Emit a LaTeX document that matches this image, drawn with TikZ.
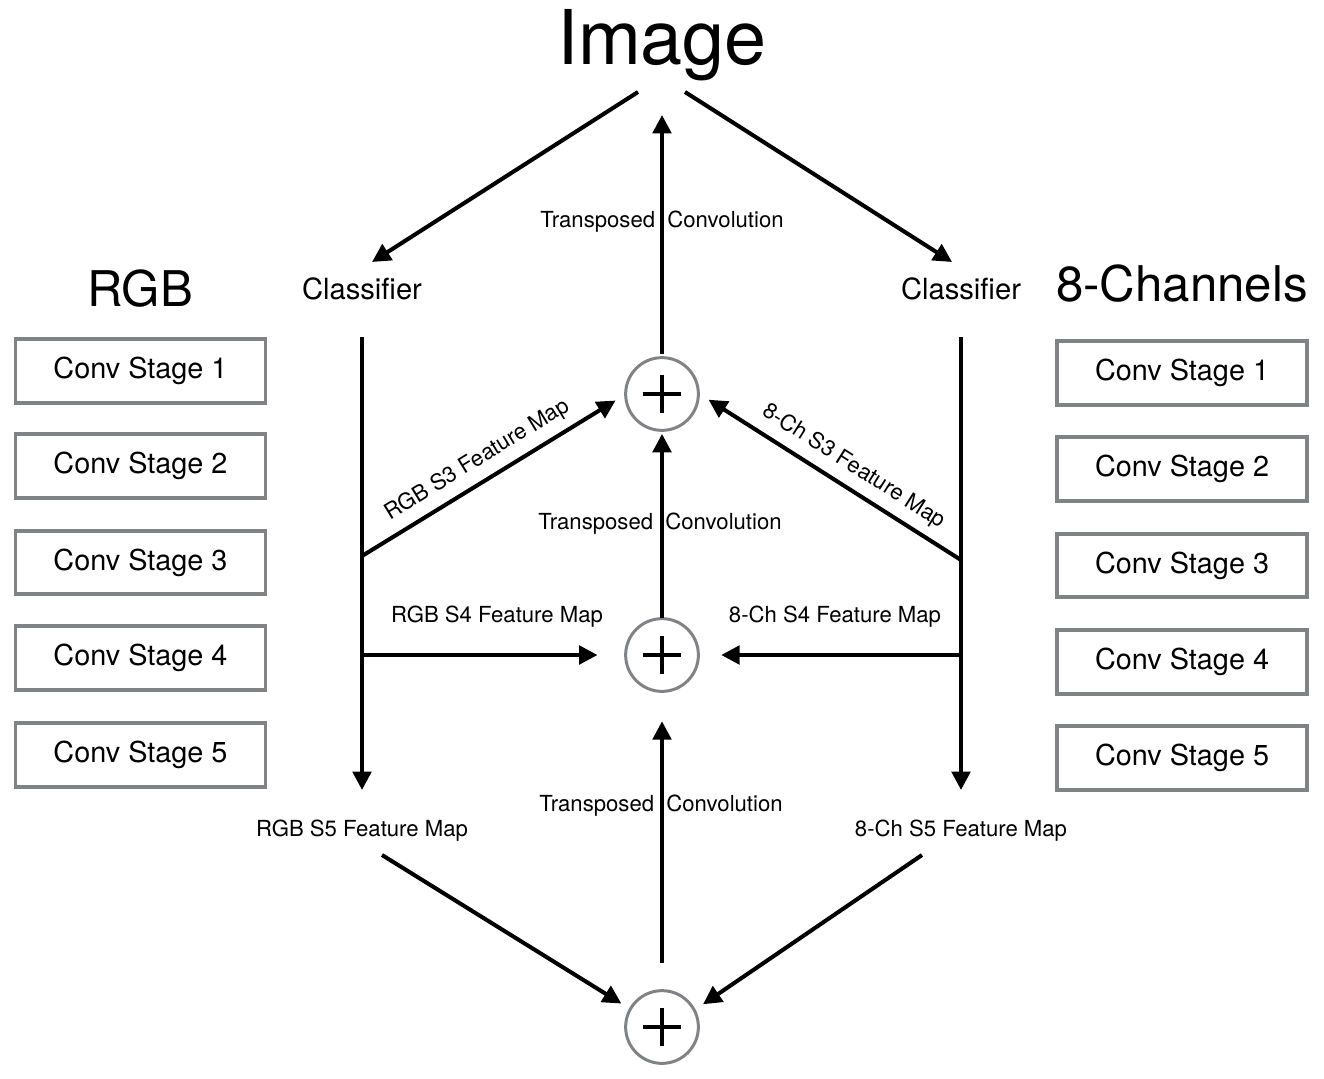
\documentclass[tikz,border=0pt]{standalone}
\usepackage{fontspec}
\setmainfont{TeX Gyre Heros}
\usetikzlibrary{arrows.meta}
\usetikzlibrary{positioning}
\definecolor{framegray}{RGB}{128,130,133}
\newcommand{\stagenode}[3]{\node(#1)[stage] at (#2){Conv Stage #3}}

\begin{document}
\begin{tikzpicture}[
        x=0.02cm, y=-0.02cm,
        every node/.style={font=\fontsize{12.6}{15}\selectfont, inner sep=0pt},
        stage/.style={rectangle,minimum width=142.3pt,minimum height=36.3pt,
                      line width=2.2pt,draw=framegray,font=\fontsize{16.4}{20}\selectfont},
        head/.style={anchor=base,font=\fontsize{28}{34}\selectfont},
        cls/.style={anchor=base,font=\fontsize{16.6}{20}\selectfont},
        fmap/.style={anchor=base},
        sum/.style={circle,minimum size=41.4pt,line width=1.7pt,draw=framegray,outer sep=6pt,
                    path picture={\draw[line width=2.3pt,black]
                      ([xshift=-11pt]path picture bounding box.center) -- ([xshift=11pt]path picture bounding box.center)
                      ([yshift=-11pt]path picture bounding box.center) -- ([yshift=11pt]path picture bounding box.center);}},
        arr/.style={line width=2.3pt,-{Triangle[length=10.5pt,width=10.5pt]}}
      ]
      \useasboundingbox (0,0) rectangle (1324,1078);

      % titles
      \node(img)[anchor=base,font=\fontsize{43}{50}\selectfont] at (662,65) {Image};
      \node(rgb)[head] at (140,306) {RGB};
      \node(eightch)[head] at (1182,301) {8-Channels};
      \node(clsL)[cls] at (362,299) {Classifier};
      \node(clsR)[cls] at (961,299) {Classifier};

      % conv stages
      \stagenode{l1}{140.5,371}{1}; \stagenode{l2}{140.5,466}{2}; \stagenode{l3}{140.5,562.5}{3};
      \stagenode{l4}{140.5,658}{4}; \stagenode{l5}{140.5,755}{5};
      \stagenode{r1}{1182,373}{1}; \stagenode{r2}{1182,469}{2}; \stagenode{r3}{1182,565.5}{3};
      \stagenode{r4}{1182,662}{4}; \stagenode{r5}{1182,758}{5};

      % sums
      \node(sum3)[sum] at (662,394) {};
      \node(sum4)[sum] at (662,655) {};
      \node(sum5)[sum] at (662,1027) {};

      % labels
      \node(tc3)[fmap] at (662,227) {Transposed\hspace{7pt}Convolution};
      \node(tc4)[fmap] at (660,529) {Transposed\hspace{7pt}Convolution};
      \node(tc5)[fmap] at (661,811) {Transposed\hspace{7pt}Convolution};
      \node(rgbs4)[fmap] at (497,622) {RGB S4 Feature Map};
      \node(chs4)[fmap] at (835,622) {8-Ch S4 Feature Map};
      \node(rgbs5)[fmap] at (362,836) {RGB S5 Feature Map};
      \node(chs5)[fmap] at (961,836) {8-Ch S5 Feature Map};

      % line ends
      \coordinate (imgL) at (638,92);  \coordinate (imgR) at (685,92);  \coordinate (imgB) at (662,115);
      \coordinate (inL) at (372,262);  \coordinate (inR) at (952,262);
      \coordinate (rgbTop) at (362,337); \coordinate (rgbS3) at (362,556); \coordinate (rgbS4) at (362,655); \coordinate (rgbEnd) at (362,790);
      \coordinate (chTop) at (961,337);  \coordinate (chS3) at (961,560);  \coordinate (chS4) at (961,655);  \coordinate (chEnd) at (961,790);
      \coordinate (outL) at (382,855); \coordinate (outR) at (922,855);

      \draw[arr] (imgL) -- (inL);
      \draw[arr] (imgR) -- (inR);
      \draw[arr] (rgbTop) -- (rgbEnd);
      \draw[arr] (chTop) -- (chEnd);
      \draw[arr] (rgbS3) -- node[sloped,above=5pt,pos=0.5](rgbs3){RGB S3 Feature Map} (sum3.188);
      \draw[arr] (chS3) -- node[sloped,above=5pt,pos=0.47](chs3){8-Ch S3 Feature Map} (sum3.-7);
      \draw[arr,shorten >=10pt] (rgbS4) -- (sum4.west);
      \draw[arr,shorten >=7pt] (chS4) -- (sum4.east);
      \draw[arr] (outL) -- (sum5.150);
      \draw[arr] (outR) -- (sum5.29);
      \draw[arr,shorten <=-4pt] (sum3) -- (imgB);
      \draw[arr,shorten <=-5.5pt,shorten >=-4pt] (sum4) -- (sum3);
      \draw[arr,shorten <=10pt,shorten >=11pt] (sum5) -- (sum4);
\end{tikzpicture}
\end{document}
